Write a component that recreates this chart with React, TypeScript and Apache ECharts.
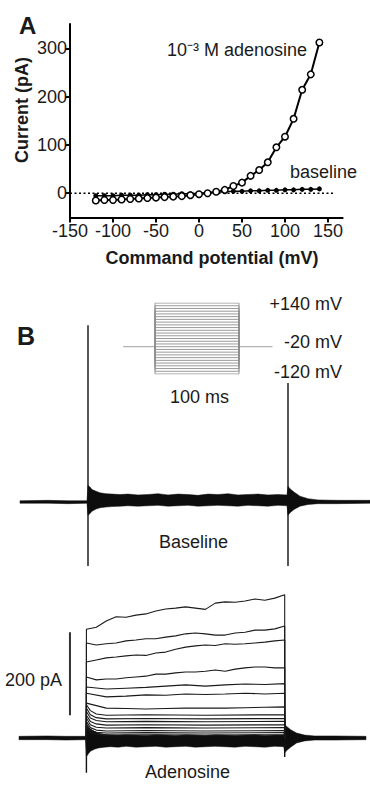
import React, { useEffect, useRef } from "react";
import * as echarts from "echarts";

const FONT = "'Liberation Sans', Arial, Helvetica, sans-serif";

// ---------- Panel A: I-V relation ----------
const voltages = [-120, -110, -100, -90, -80, -70, -60, -50, -40, -30, -20, -10, 0, 10, 20, 30, 40, 50, 60, 70, 80, 90, 100, 110, 120, 130, 140];
const adenosineIV = [-15, -14, -14, -13, -12, -11, -10, -9, -8, -7, -6, -4, -2, 0, 3, 7, 15, 22, 36, 48, 64, 95, 117, 154, 214, 246, 312];
const baselineIV = [-5, -5, -5, -4, -4, -4, -3, -3, -2, -2, -1, -1, 0, 1, 2, 3, 4, 4, 5, 5, 6, 6, 7, 7, 8, 8, 9];
const zeroLineX = [-150, 158];
const xTicks = [-150, -100, -50, 0, 50, 100, 150];
const yTicks = [0, 100, 200, 300];

// ---------- Panel B: voltage protocol (mV, ms) ----------
const stepVoltages = [-120, -110, -100, -90, -80, -70, -60, -50, -40, -30, -20, -10, 0, 10, 20, 30, 40, 50, 60, 70, 80, 90, 100, 110, 120, 130, 140];
const holdingMV = -20;
const protoStart = -38;
const stepStart = 0;
const stepEnd = 100;
const protoEnd = 140;

// ---------- Panel B: current traces (pA vs ms) ----------
const fineT = [0, 5, 10, 15, 20, 25, 30, 35, 40, 45, 50, 55, 60, 65, 70, 75, 80, 85, 90, 95, 100];
const ado1 = [262, 267, 282, 292, 291, 296, 299, 306, 311, 313, 316, 313, 310, 325, 328, 327, 330, 335, 332, 337, 345];
const ado2 = [229, 224, 227, 229, 234, 236, 239, 239, 243, 246, 251, 253, 251, 248, 248, 253, 255, 260, 260, 263, 270];
const ado3 = [183, 188, 193, 195, 198, 200, 199, 205, 207, 214, 219, 222, 224, 223, 227, 226, 227, 229, 231, 234, 236];
const ado4 = [147, 140, 142, 142, 145, 147, 149, 154, 154, 157, 159, 159, 161, 164, 161, 166, 169, 171, 171, 169, 169];

const coarseT = [0, 10, 20, 30, 40, 50, 60, 70, 80, 90, 100];
const ado5 = [123, 118, 120, 122, 125, 128, 125, 128, 130, 129, 131];
const ado6 = [108, 99, 101, 104, 103, 106, 105, 106, 108, 106, 108];
const ado7 = [84, 72, 71, 70, 71, 72, 72, 72, 73, 74, 75];

const lowT = [0, 2, 5, 10, 30, 60, 100];
const ado8 = [80, 66, 58, 55, 56, 55, 56];
const ado9 = [72, 56, 49, 46, 47, 46, 47];
const ado10 = [64, 48, 42, 39, 40, 39, 40];
const ado11 = [55, 40, 34, 31, 32, 31, 32];
const ado12 = [48, 32, 26, 24, 25, 24, 25];
const ado13 = [40, 25, 19, 17, 18, 17, 18];
const ado14 = [34, 19, 14, 12, 13, 12, 13];
const ado15 = [28, 13, 9, 7, 8, 7, 8];

// noise envelope around the holding current (pA)
const bandT = [-34, -20, -10, -0.5, 0, 1, 2, 4, 6, 9, 12, 16, 20, 25, 30, 35, 40, 45, 50, 55, 60, 65, 70, 75, 80, 85, 90, 95, 99.5, 100, 101, 103, 106, 110, 115, 125, 141];
const baseUp = [3, 4, 3, 3, 40, 36, 30, 26, 22, 20, 19, 18, 19, 17, 18, 20, 17, 19, 18, 16, 19, 18, 20, 17, 18, 19, 17, 18, 17, 38, 32, 24, 14, 8, 5, 4, 4];
const baseLo = [-3, -3, -4, -3, -32, -28, -22, -17, -14, -12, -11, -10, -9, -10, -9, -8, -10, -9, -8, -10, -9, -8, -9, -10, -8, -9, -10, -8, -9, -32, -26, -18, -10, -6, -4, -4, -3];
const adoUp = [4, 5, 4, 4, 30, 26, 22, 16, 12, 9, 8, 7, 8, 7, 6, 8, 7, 6, 8, 7, 6, 8, 7, 6, 7, 8, 6, 7, 7, 32, 28, 20, 12, 7, 5, 5, 4];
const adoLo = [-4, -4, -5, -4, -45, -38, -32, -27, -24, -22, -21, -22, -20, -22, -21, -20, -22, -21, -20, -22, -21, -20, -21, -22, -20, -21, -22, -20, -21, -36, -30, -22, -12, -7, -5, -5, -4];

// capacitive transients (pA): [min, max]
const baseOnSpike = [-154, 426];
const baseOffSpike = [-154, 287];
const adoOnSpike = [-84, 0];
const adoOffSpike = [-46, 0];

// scale bar 200 pA
const scaleBarT = -8.3;
const scaleBarPA = [55, 255];

export default function App() {
  const ref = useRef<HTMLDivElement>(null);

  useEffect(() => {
    document.body.style.margin = "0";
    const chart = echarts.init(ref.current!, null, { renderer: "svg" });

    const hiddenAxis = (min: number, max: number, gridIndex: number) => ({
      type: "value",
      gridIndex,
      min,
      max,
      show: false,
      splitLine: { show: false },
    });

    const traceSeries = (t: number[], v: number[], grid: number) => ({
      type: "line",
      xAxisIndex: grid,
      yAxisIndex: grid,
      data: [[t[0], 0], ...t.map((tt, i) => [tt, v[i]]), [t[t.length - 1], 0]],
      symbol: "none",
      silent: true,
      lineStyle: { color: "#1a1a1a", width: 1.1 },
      z: 3,
    });

    const bandSeries = (up: number[], lo: number[], grid: number) => ({
      type: "custom",
      xAxisIndex: grid,
      yAxisIndex: grid,
      data: bandT.map((t, i) => [t, lo[i], up[i]]),
      encode: { x: 0, y: [1, 2] },
      silent: true,
      z: 2,
      renderItem: (params: any, api: any) => {
        if (params.dataIndex !== 0) return null;
        const top = bandT.map((t, i) => api.coord([t, up[i]]));
        const bot = bandT.map((t, i) => api.coord([t, lo[i]])).reverse();
        return {
          type: "polygon",
          shape: { points: top.concat(bot) },
          style: { fill: "#0d0d0d", stroke: "#0d0d0d", lineWidth: 0.5 },
        };
      },
    });

    const vline = (t: number, range: number[], grid: number, width = 1.4) => ({
      type: "line",
      xAxisIndex: grid,
      yAxisIndex: grid,
      data: [[t, range[0]], [t, range[1]]],
      symbol: "none",
      silent: true,
      lineStyle: { color: "#111", width },
      z: 4,
    });

    const protoSeries = stepVoltages.map((V) => ({
      type: "line",
      xAxisIndex: 1,
      yAxisIndex: 1,
      data: [[stepStart, holdingMV], [stepStart, V], [stepEnd, V], [stepEnd, holdingMV]],
      symbol: "none",
      silent: true,
      lineStyle: { color: "#8e8e8e", width: 0.9 },
    }));

    const textEl = (text: string, x: number, y: number, size: number, align = "left", bold = false, extra: any = {}) => ({
      type: "text",
      x,
      y,
      ...extra,
      style: {
        text,
        fill: "#1a1a1a",
        font: `${bold ? "bold " : ""}${size}px ${FONT}`,
        align,
        verticalAlign: "middle",
      },
    });

    const option: any = {
      animation: false,
      backgroundColor: "#ffffff",
      grid: [
        { left: 70, top: 24.1, width: 272.6, height: 193.3, outerBoundsMode: "none", containLabel: false },
        { left: 123.1, top: 303, width: 149.5, height: 71, outerBoundsMode: "none", containLabel: false },
        { left: 20, top: 294.5, width: 350, height: 290.5, outerBoundsMode: "none", containLabel: false },
        { left: 19, top: 551.25, width: 347, height: 228.25, outerBoundsMode: "none", containLabel: false },
      ],
      xAxis: [
        {
          type: "value",
          gridIndex: 0,
          min: -150,
          max: 167,
          splitLine: { show: false },
          axisLine: { onZero: false, lineStyle: { color: "#000", width: 2 } },
          axisTick: { customValues: xTicks, length: 5, lineStyle: { color: "#000", width: 2 } },
          axisLabel: { customValues: xTicks, fontSize: 18, color: "#1a1a1a", fontFamily: FONT, margin: 5 },
        },
        hiddenAxis(protoStart, protoEnd, 1),
        hiddenAxis(-34, 141, 2),
        hiddenAxis(-34, 141, 3),
      ],
      yAxis: [
        {
          type: "value",
          gridIndex: 0,
          min: -50,
          max: 350,
          splitLine: { show: false },
          axisLine: { onZero: false, lineStyle: { color: "#000", width: 2 } },
          axisTick: { customValues: yTicks, length: 5, lineStyle: { color: "#000", width: 2 } },
          axisLabel: { customValues: yTicks, fontSize: 18, color: "#1a1a1a", fontFamily: FONT, margin: 3 },
        },
        hiddenAxis(-120, 140, 1),
        hiddenAxis(-200, 500, 2),
        hiddenAxis(-100, 450, 3),
      ],
      graphic: [
        textEl("A", 19, 25, 24, "left", true),
        textEl("Current (pA)", 22, 110, 18, "center", true, { rotation: Math.PI / 2 }),
        textEl("Command potential (mV)", 212, 258, 18, "center", true),
        textEl("10⁻³ M adenosine", 167, 50, 18, "left"),
        textEl("baseline", 290, 172, 18, "left"),
        textEl("B", 17, 336, 25, "left", true),
        textEl("+140 mV", 342, 304, 18, "right"),
        textEl("-20 mV", 342, 342, 18, "right"),
        textEl("-120 mV", 342, 372, 18, "right"),
        textEl("100 ms", 199.5, 397, 18, "center"),
        textEl("Baseline", 193.5, 542, 18, "center"),
        textEl("200 pA", 5, 680, 18, "left"),
        textEl("Adenosine", 187.5, 772, 18, "center"),
      ],
      series: [
        {
          type: "line",
          xAxisIndex: 0,
          yAxisIndex: 0,
          data: zeroLineX.map((x) => [x, 0]),
          symbol: "none",
          silent: true,
          lineStyle: { color: "#000", width: 1.6, type: [2, 2.5] },
          z: 1,
        },
        {
          type: "line",
          xAxisIndex: 0,
          yAxisIndex: 0,
          data: voltages.map((v, i) => [v, baselineIV[i]]),
          symbol: "circle",
          symbolSize: 5,
          itemStyle: { color: "#000" },
          lineStyle: { color: "#000", width: 1.5 },
          silent: true,
          z: 2,
        },
        {
          type: "line",
          xAxisIndex: 0,
          yAxisIndex: 0,
          data: voltages.map((v, i) => [v, adenosineIV[i]]),
          symbol: "circle",
          symbolSize: 6.5,
          itemStyle: { color: "#fff", borderColor: "#000", borderWidth: 1.5 },
          lineStyle: { color: "#000", width: 2 },
          silent: true,
          z: 3,
        },
        // protocol
        {
          type: "line",
          xAxisIndex: 1,
          yAxisIndex: 1,
          data: [[protoStart, holdingMV], [stepStart, holdingMV]],
          symbol: "none",
          silent: true,
          lineStyle: { color: "#a0a0a0", width: 1 },
        },
        {
          type: "line",
          xAxisIndex: 1,
          yAxisIndex: 1,
          data: [[stepEnd, holdingMV], [protoEnd, holdingMV]],
          symbol: "none",
          silent: true,
          lineStyle: { color: "#a0a0a0", width: 1 },
        },
        ...protoSeries,
        // baseline trace
        bandSeries(baseUp, baseLo, 2),
        vline(0, baseOnSpike, 2),
        vline(100, baseOffSpike, 2),
        // adenosine traces
        bandSeries(adoUp, adoLo, 3),
        vline(0, adoOnSpike, 3),
        vline(100, adoOffSpike, 3),
        traceSeries(fineT, ado1, 3),
        traceSeries(fineT, ado2, 3),
        traceSeries(fineT, ado3, 3),
        traceSeries(fineT, ado4, 3),
        traceSeries(coarseT, ado5, 3),
        traceSeries(coarseT, ado6, 3),
        traceSeries(coarseT, ado7, 3),
        traceSeries(lowT, ado8, 3),
        traceSeries(lowT, ado9, 3),
        traceSeries(lowT, ado10, 3),
        traceSeries(lowT, ado11, 3),
        traceSeries(lowT, ado12, 3),
        traceSeries(lowT, ado13, 3),
        traceSeries(lowT, ado14, 3),
        traceSeries(lowT, ado15, 3),
        {
          type: "line",
          xAxisIndex: 3,
          yAxisIndex: 3,
          data: scaleBarPA.map((v) => [scaleBarT, v]),
          symbol: "none",
          silent: true,
          lineStyle: { color: "#333", width: 2 },
        },
      ],
    };

    chart.setOption(option);
    return () => chart.dispose();
  }, []);

  return <div ref={ref} style={{ width: 370, height: 785 }} />;
}
